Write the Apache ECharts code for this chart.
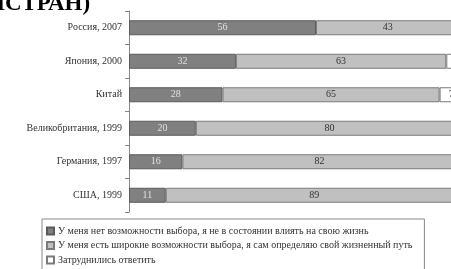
<!DOCTYPE html>
<html>
<head>
<meta charset="utf-8">
<script src="https://cdn.jsdelivr.net/npm/echarts@6/dist/echarts.min.js"></script>
<style>
  html, body { margin: 0; padding: 0; background: #fff; }
  #chart { width: 451px; height: 269px; }
</style>
</head>
<body>
<div id="chart"></div>
<script>
// страны (сверху вниз)
const countries = ["Россия, 2007", "Япония, 2000", "Китай", "Великобритания, 1999", "Германия, 1997", "США, 1999"];
const noChoice = [56, 32, 28, 20, 16, 11];
const wideChoice = [43, 63, 65, 80, 82, 89];
const hardToSay = [1, 5, 7, 0, 2, 0];
const seriesNames = [
  "У меня нет возможности выбора, я не в состоянии влиять на свою жизнь",
  "У меня есть широкие возможности выбора, я сам определяю свой жизненный путь",
  "Затруднились ответить"
];

const font = "'Liberation Serif', 'DejaVu Serif', serif";
const chart = echarts.init(document.getElementById("chart"));

function bar(name, data, fill, border, labelColor) {
  return {
    name: name,
    type: "bar",
    stack: "all",
    barWidth: 15,
    data: data,
    itemStyle: { color: fill, borderColor: border, borderWidth: 1 },
    label: {
      show: true,
      position: "inside",
      color: labelColor,
      fontFamily: font,
      fontSize: 10,
      formatter: p => (p.value ? p.value : "")
    },
    emphasis: { disabled: true }
  };
}

const option = {
  animation: false,
  graphic: [{
    type: "text",
    x: -13,
    y: 4,
    style: {
      text: "ИСТРАН)",
      font: "bold 23px " + font,
      fill: "#000",
      verticalAlign: "middle"
    }
  }],
  grid: { left: 129, top: 11, width: 334, height: 201, outerBoundsMode: "none" },
  xAxis: {
    type: "value",
    min: 0,
    max: 100,
    show: false
  },
  yAxis: {
    type: "category",
    inverse: true,
    data: countries,
    axisLine: { lineStyle: { color: "#888", width: 1 } },
    axisTick: { show: true, length: 4, lineStyle: { color: "#888" } },
    axisLabel: { color: "#333", fontFamily: font, fontSize: 10, margin: 7 }
  },
  legend: {
    orient: "vertical",
    left: 42,
    top: 219,
    height: 60,
    padding: [7, 12, 6, 4],
    icon: "rect",
    itemWidth: 7,
    itemHeight: 7,
    itemGap: 4.5,
    borderColor: "#888",
    borderWidth: 1,
    selectedMode: false,
    textStyle: { color: "#333", fontFamily: font, fontSize: 10, padding: [0, 0, 0, -1] },
    data: seriesNames
  },
  series: [
    bar(seriesNames[0], noChoice, "#808080", "#5a5a5a", "#e0e0e0"),
    bar(seriesNames[1], wideChoice, "#c0c0c0", "#7a7a7a", "#333"),
    bar(seriesNames[2], hardToSay, "#ffffff", "#7a7a7a", "#333")
  ]
};
chart.setOption(option);
</script>
</body>
</html>
